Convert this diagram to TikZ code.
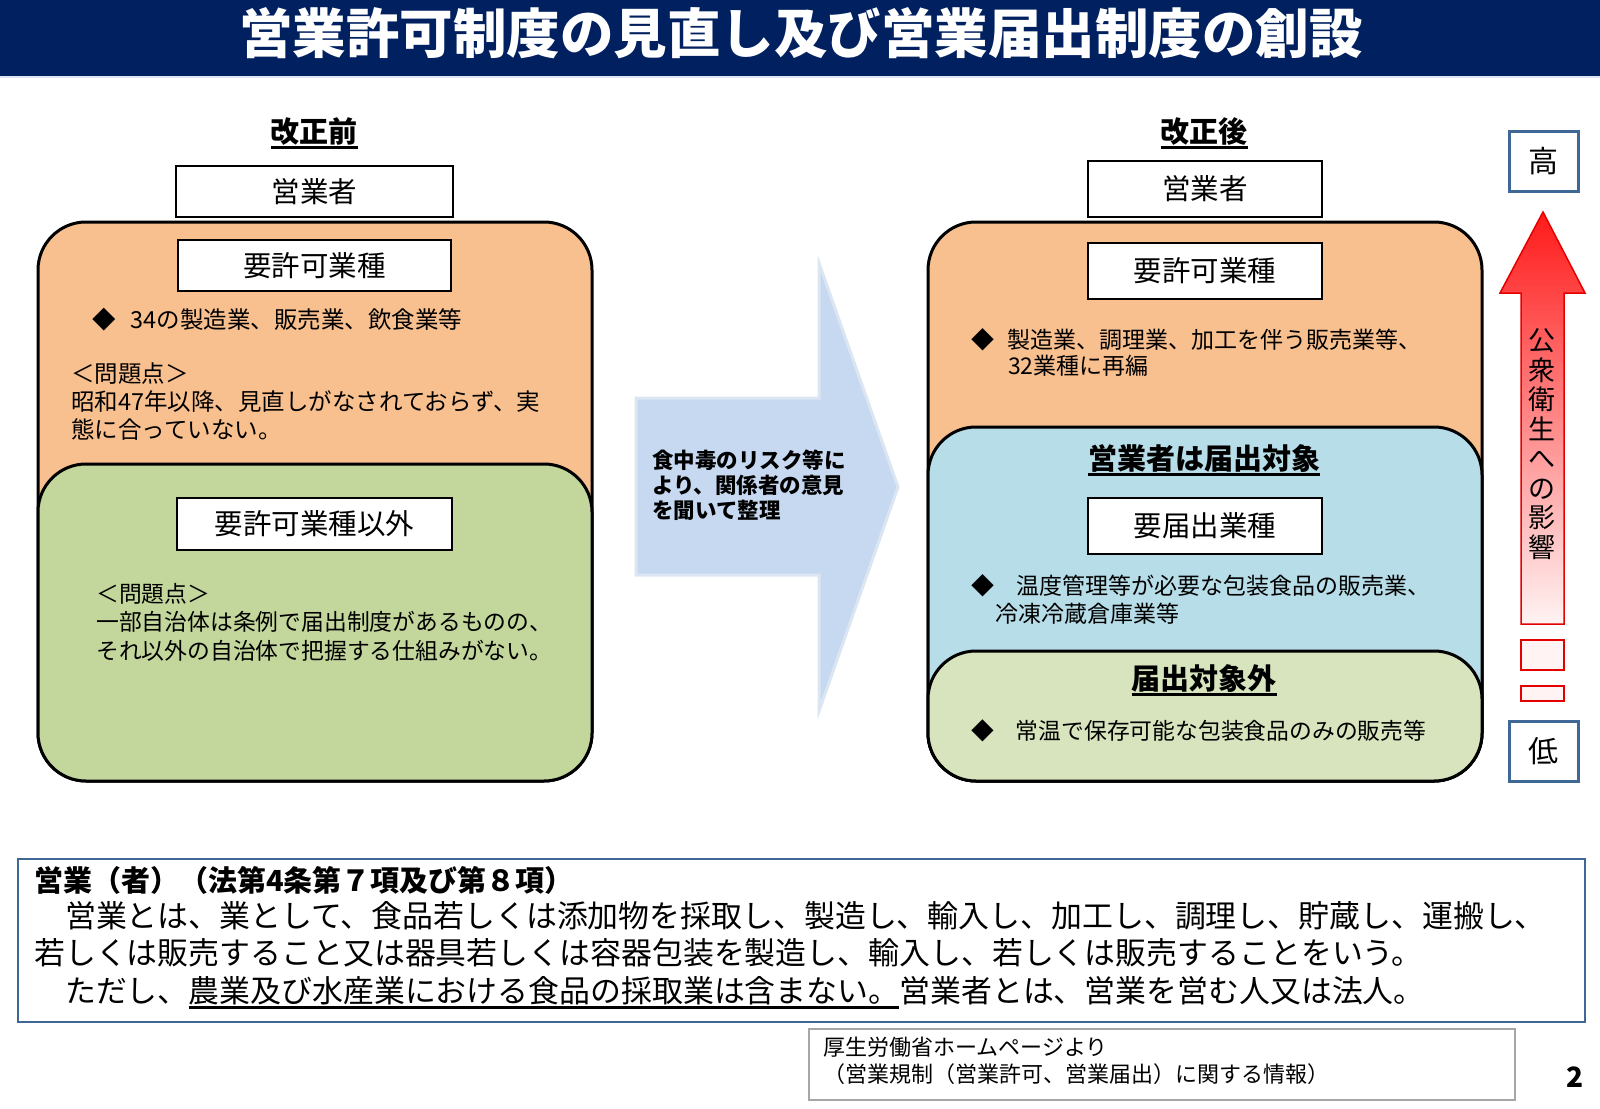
\documentclass[tikz,border=0pt]{standalone}
\usepackage{fontspec}
\setmainfont{Noto Sans CJK JP}

\definecolor{titlenavy}{HTML}{002060}
\definecolor{permitorange}{HTML}{F8BF8F}
\definecolor{othergreen}{HTML}{C3D69B}
\definecolor{notifyblue}{HTML}{B7DDE8}
\definecolor{exemptgreen}{HTML}{D7E4BD}
\definecolor{arrowblue}{HTML}{C6D9F1}
\definecolor{arrowedge}{HTML}{DCE6F2}
\definecolor{scaleblue}{HTML}{3F6896}
\definecolor{scalered}{HTML}{FF1A1A}
\definecolor{scalepink}{HTML}{FFF3F3}

% underline that sits a little below the glyphs
\newcommand{\undl}[1]{\setbox0\hbox{#1}\leavevmode\rlap{\vrule height -4pt depth 6.5pt width \wd0}\box0}

\tikzset{
  areabox/.style={draw, line width=3pt, rounded corners=48pt},
  tagbox/.style={draw, fill=white, line width=2.5pt, inner sep=0pt,
    font=\fontsize{28.5}{30}\selectfont},
  body/.style={anchor=west, inner sep=0pt, align=left,
    font=\fontsize{23.5}{28}\selectfont},
  heading/.style={inner sep=0pt, font=\bfseries\fontsize{29}{32}\selectfont},
  levelbox/.style={draw=scaleblue, fill=white, line width=3pt, inner sep=0pt,
    minimum width=69pt, minimum height=60pt, font=\fontsize{30}{32}\selectfont},
}

\begin{document}
\begin{tikzpicture}[x=1pt,y=-1pt]
\useasboundingbox (0,0) rectangle (1600,1108);

% title bar
\fill[titlenavy] (0,0) rectangle (1600,76);
\draw[arrowedge, line width=2pt] (0,77) -- (1600,77);
\node [text=white, font=\bfseries\fontsize{53.5}{56}\selectfont] (title) at (801,33)
  {営業許可制度の見直し及び営業届出制度の創設};

%%% before the revision
\node [heading] (before) at (314,133) {\undl{改正前}};
\node [tagbox, minimum width=277pt, minimum height=51pt] (opL) at (314.5,191.5) {営業者};

\draw[areabox, fill=permitorange] (38,222) rectangle (592,781);
\node [tagbox, minimum width=273pt, minimum height=51pt] (permitL) at (314.5,265.5) {要許可業種};
\node [body] (permitListL) at (92,320)
  {◆\hspace*{15pt}34の製造業、販売業、飲食業等};
\node [body] (permitIssueL) at (71,402)
  {＜問題点＞\\昭和47年以降、見直しがなされておらず、実\\態に合っていない。};

\draw[areabox, fill=othergreen] (38,464) rectangle (592,781);
\node [tagbox, minimum width=275pt, minimum height=52pt] (otherL) at (314.5,524) {要許可業種以外};
\node [body, font=\fontsize{22.8}{28.5}\selectfont] (otherIssueL) at (96,622)
  {＜問題点＞\\一部自治体は条例で届出制度があるものの、\\それ以外の自治体で把握する仕組みがない。};

%%% arrow in the middle
\draw[arrowedge, fill=arrowblue, line width=3pt]
  (636,398) -- (819,398) -- (819,263) -- (898,487) -- (819,711)
  -- (819,575) -- (636,575) -- cycle;
\node [body, font=\bfseries\fontsize{21.5}{25}\selectfont] (reason) at (652,485)
  {食中毒のリスク等に\\より、関係者の意見\\を聞いて整理};

%%% after the revision
\node [heading] (after) at (1204,133) {\undl{改正後}};
\node [tagbox, minimum width=234pt, minimum height=56pt] (opR) at (1205,189) {営業者};

\draw[areabox, fill=permitorange] (928,222) rectangle (1482,781);
\node [tagbox, minimum width=234pt, minimum height=56pt] (permitR) at (1205,271) {要許可業種};
\node [body, font=\fontsize{23}{26}\selectfont] (permitListR) at (971,352)
  {◆\hspace*{13pt}製造業、調理業、加工を伴う販売業等、\\\hspace*{37pt}32業種に再編};

\draw[areabox, fill=notifyblue] (928,427) rectangle (1482,781);
\node [heading] (notify) at (1204,460) {\undl{営業者は届出対象}};
\node [tagbox, minimum width=234pt, minimum height=56pt] (notifyR) at (1205,526) {要届出業種};
\node [body, font=\fontsize{23}{28}\selectfont] (notifyList) at (971,599)
  {◆\hspace*{22pt}温度管理等が必要な包装食品の販売業、\\\hspace*{24pt}冷凍冷蔵倉庫業等};

\draw[areabox, fill=exemptgreen] (928,651) rectangle (1482,781);
\node [heading] (exempt) at (1204,680) {\undl{届出対象外}};
\node [body, font=\fontsize{22.8}{28}\selectfont] (exemptList) at (971,731)
  {◆\hspace*{22pt}常温で保存可能な包装食品のみの販売等};

%%% scale of the effect on public health
\node [levelbox] (high) at (1543.5,161.5) {高};
\node [levelbox] (low) at (1543.5,751) {低};
\shade[top color=scalered, bottom color=scalepink]
  (1500,293) -- (1543,212) -- (1585,293) -- (1564,293) -- (1564,624)
  -- (1521,624) -- (1521,293) -- cycle;
\draw[red!90!black, line width=1.5pt]
  (1500,293) -- (1543,212) -- (1585,293) -- (1564,293) -- (1564,624)
  -- (1521,624) -- (1521,293) -- cycle;
\node [inner sep=0pt, align=center, font=\fontsize{27}{29.5}\selectfont] (effect) at (1542,444)
  {公\\衆\\衛\\生\\へ\\の\\影\\響};
\draw[red!90!black, fill=scalepink, line width=1.5pt] (1521,640) rectangle (1564,670);
\draw[red!90!black, fill=scalepink, line width=1.5pt] (1521,686) rectangle (1564,701);

%%% definition
\draw[scaleblue, line width=2pt] (18,859) rectangle (1585,1022);
\node [anchor=west, inner sep=0pt, font=\bfseries\fontsize{29}{32}\selectfont] (defhead) at (34,880)
  {営業（者）（法第4条第７項及び第８項）};
\node [body, font=\fontsize{30.9}{37.5}\selectfont] (defline) at (34,955)
  {　営業とは、業として、食品若しくは添加物を採取し、製造し、輸入し、加工し、調理し、貯蔵し、運搬し、\\若しくは販売すること又は器具若しくは容器包装を製造し、輸入し、若しくは販売することをいう。\\　ただし、\undl{農業及び水産業における食品の採取業は含まない。}営業者とは、営業を営む人又は法人。};

% source
\draw[black!35, line width=1.5pt] (809,1029) rectangle (1515,1100);
\node [body, font=\fontsize{22}{27.5}\selectfont] (source) at (823,1061)
  {厚生労働省ホームページより\\（営業規制（営業許可、営業届出）に関する情報）};

\node [inner sep=0pt, font=\bfseries\fontsize{28}{30}\selectfont] (page) at (1575,1077) {2};

\end{tikzpicture}
\end{document}
